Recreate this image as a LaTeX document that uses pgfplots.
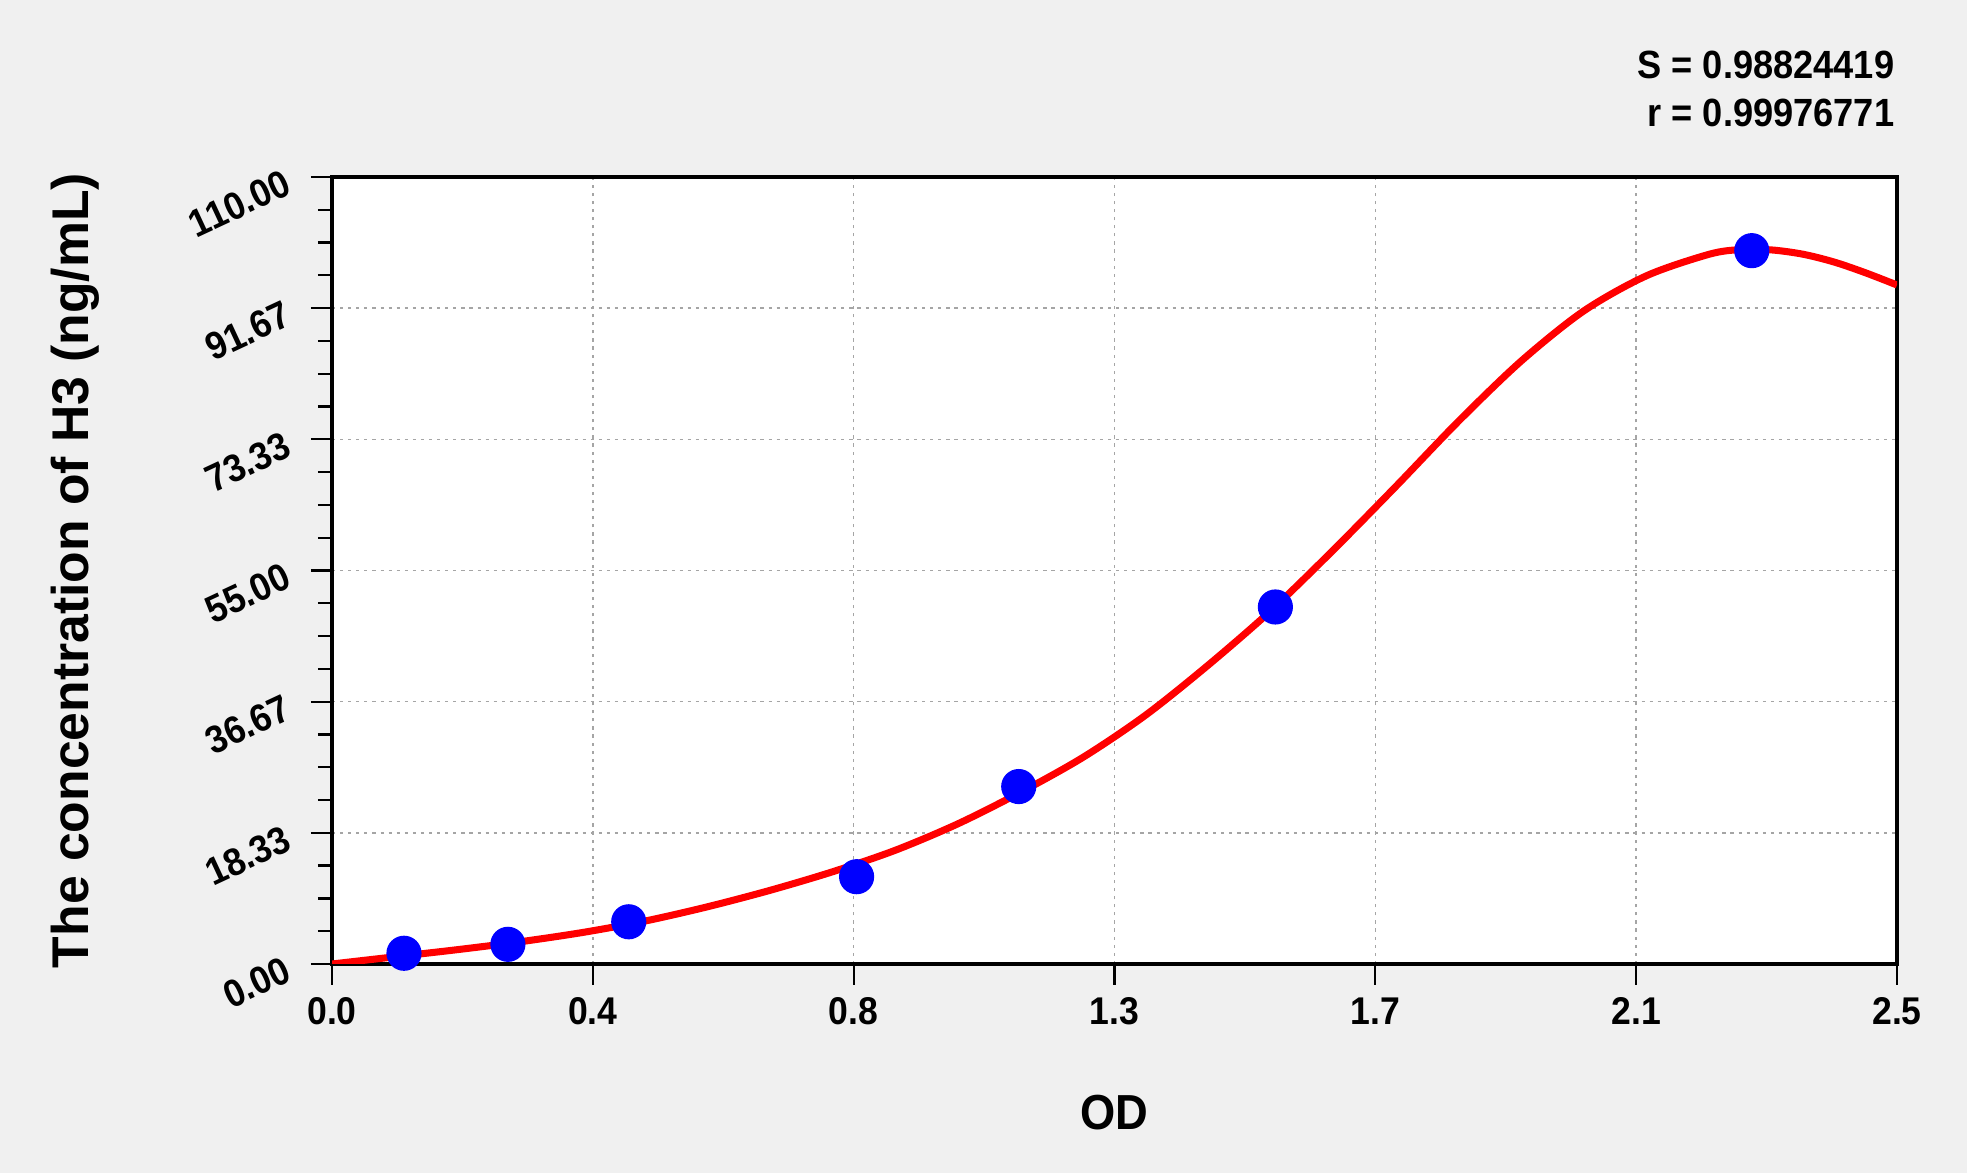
\documentclass[border=0pt]{standalone}
\usepackage{pgfplots}
\pgfplotsset{compat=1.18}
\usepackage{fontspec}
\setmainfont{Liberation Sans}[FakeStretch=0.92]
\newfontfamily\wideface{Liberation Sans}
\definecolor{bggray}{RGB}{240,240,240}
\definecolor{gridgray}{RGB}{165,165,165}

\begin{document}
\begin{tikzpicture}
\fill[bggray] (0,0) rectangle (19.67,11.73);
\path[use as bounding box] (0,0) rectangle (19.67,11.73);
\begin{axis}[
  at={(3.32cm,2.09cm)}, anchor=south west,
  scale only axis, width=15.65cm, height=7.87cm,
  xmin=0, xmax=2.5, ymin=0, ymax=110,
  axis background/.style={fill=white},
  xtick={0,0.416667,0.833333,1.25,1.666667,2.083333,2.5},
  xticklabels={0.0,0.4,0.8,1.3,1.7,2.1,2.5},
  ytick={0,18.333333,36.666667,55,73.333333,91.666667,110},
  yticklabels={0.00,18.33,36.67,55.00,73.33,91.67,110.00},
  minor tick num=3,
  tick align=outside,
  xtick pos=bottom, ytick pos=left,
  major tick length=0.21cm, minor tick length=0.14cm,
  axis line style={line width=1pt},
  tick style={black, line width=0.65pt},
  grid=major,
  major grid style={gridgray, line width=0.45pt, dash pattern=on 0.9pt off 1.4pt},
  tick label style={font=\fontsize{11}{13}\selectfont\bfseries},
  yticklabel style={rotate=25, anchor=east, xshift=-0.1cm, yshift=0.06cm},
  xlabel={OD},
  ylabel={The concentration of H3 (ng/mL)},
  xlabel style={font=\fontsize{14}{16}\selectfont\bfseries, at={(axis description cs:0.5,-0.2097)}, anchor=base},
  ylabel style={font=\wideface\fontsize{14.7}{16}\selectfont\bfseries, at={(axis description cs:-0.1642,0.5)}, anchor=center},
  /pgf/number format/assume math mode=true,
]
% standards
\addplot[only marks, mark=*, mark size=4.8pt, blue] coordinates {
  (0.115,1.5) (0.281,2.75) (0.474,5.9) (0.838,12.2) (1.097,24.8) (1.507,49.9) (2.268,99.7)
};
% fitted curve
\addplot[red, line width=2pt, smooth] coordinates {
  (0,0) (0.1,1.0) (0.2,2.0) (0.3,3.1) (0.4,4.4) (0.5,6.0) (0.6,8.0)
  (0.7,10.3) (0.8,12.9) (0.9,15.9) (1.0,19.6) (1.1,24.0) (1.2,28.9)
  (1.3,34.8) (1.4,41.8) (1.5,49.4) (1.6,57.9) (1.7,66.8) (1.8,75.9)
  (1.9,84.3) (2.0,91.3) (2.1,96.2) (2.2,99.2) (2.25,99.85) (2.3,99.8)
  (2.35,99.2) (2.4,98.1) (2.45,96.6) (2.5,94.9)
};
\end{axis}
\node[anchor=base east, inner sep=0pt, font=\fontsize{11.2}{13}\selectfont\bfseries] at (18.95,10.94) {S = 0.98824419};
\node[anchor=base east, inner sep=0pt, font=\fontsize{11.2}{13}\selectfont\bfseries] at (18.95,10.46) {r = 0.99976771};
\end{tikzpicture}
\end{document}
